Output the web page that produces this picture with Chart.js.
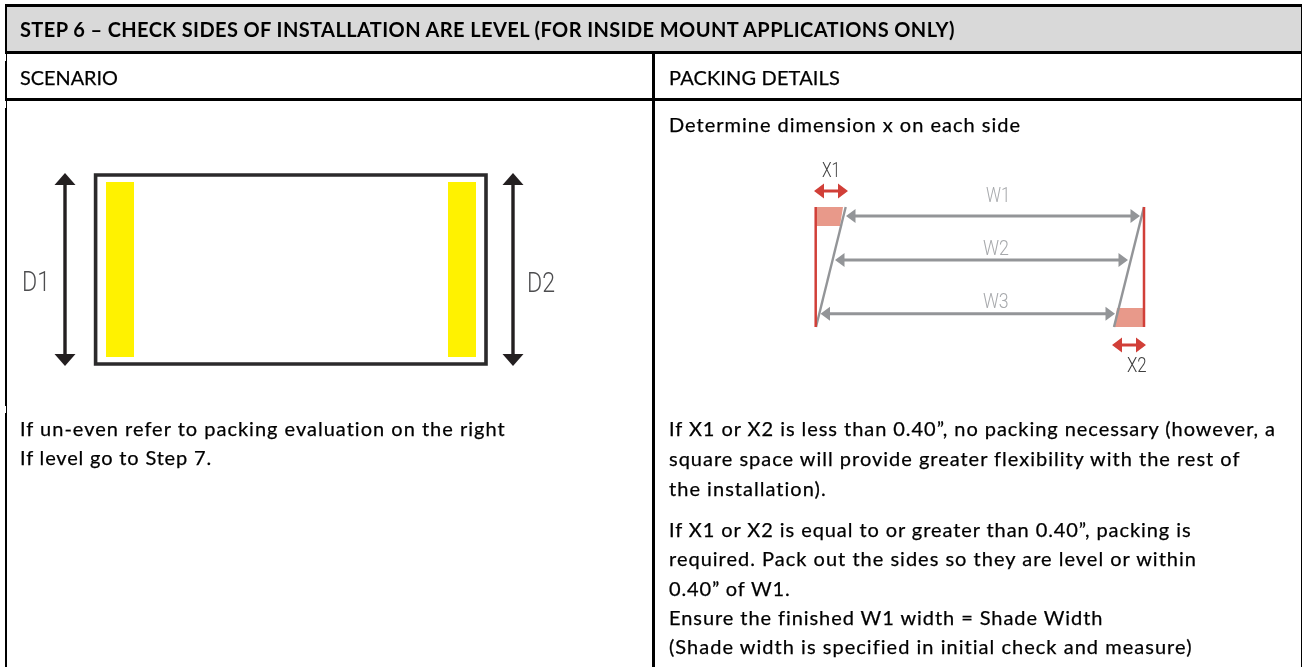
<!DOCTYPE html>
<html>
<head>
<meta charset="utf-8">
<title>Step 6</title>
<script src="https://cdn.jsdelivr.net/npm/chart.js@4"></script>
<style>
    html, body { margin: 0; padding: 0; background: #fff; overflow: hidden; }
    #wrap { position: relative; width: 1302px; height: 667px; }
    #lamina { position: absolute; left: 0; top: 0; }
    .txt { position: absolute; white-space: pre; color: #000; transform-origin: 0 0; }
    .cuerpo { -webkit-text-stroke: 0.25px #000; }
</style>
</head>
<body>
<div id="wrap"><canvas id="lamina" width="1302" height="667"></canvas></div>
<script>
// table rules, in picture units
const ruleRows = [5.5, 52.5, 99.5];
const headerBand = [[7, 7], [1301, 7], [1301, 51], [7, 51]];
const tableBottom = 667;
const leftEdge = 6, columnEdge = 653.5, rightEdge = 1301.5;
const leftNotches = [[54, 61], [101, 108], [406, 413]];

// left diagram
const frame = [[95.6, 175], [486, 175], [486, 364], [95.6, 364]];
const leftBar = [[106, 182], [134, 182], [134, 357], [106, 357]];
const rightBar = [[448, 182], [476, 182], [476, 357], [448, 357]];
const depthArrows = [[65, 173, 366], [513, 173, 366]]; // x, top, bottom

// right diagram
const redLines = [[[815.7, 207], [815.7, 327]], [[1144, 207], [1144, 327]]];
const greySlants = [[[845.7, 207], [816, 327]], [[1144, 207], [1114, 327]]];
const pinkBoxes = [
    [[816, 207], [843, 207], [840, 226], [816, 226]],
    [[1117, 308], [1145, 308], [1145, 327], [1114, 327]]
];
const widthArrows = [[846, 1140, 216], [835, 1128, 260], [820.5, 1115, 313.7]]; // left, right, y
const gapArrows = [[814, 848, 191], [1112, 1146, 345]];

// text
const titleText = 'STEP 6 – CHECK SIDES OF INSTALLATION ARE LEVEL (FOR INSIDE MOUNT APPLICATIONS ONLY)';
const colHeads = ['SCENARIO', 'PACKING DETAILS'];
const leftLines = ['If un-even refer to packing evaluation on the right', 'If level go to Step 7.'];
const introLine = 'Determine dimension x on each side';
const rightLines = [
    'If X1 or X2 is less than 0.40”, no packing necessary (however, a',
    'square space will provide greater flexibility with the rest of',
    'the installation).',
    'If X1 or X2 is equal to or greater than 0.40”, packing is',
    'required. Pack out the sides so they are level or within',
    '0.40” of W1.',
    'Ensure the finished W1 width = Shade Width',
    '(Shade width is specified in initial check and measure)'
];
const rightBaselines = [436, 466, 496, 537, 566, 596, 625, 654];
const rightEnds = [1276, 1240.5, 827, 1191.5, 1197, 790.5, 1103, 1192.5];

const NEGRO = '#000000', OSCURO = '#2b2a2b', AMARILLO = '#fff200';
const GRIS = '#939598', ROJO = '#d13f38', ROSA = '#e8998a';

const datasets = [];

function linea(points, color, width) {
    datasets.push({
        data: points.map(p => ({ x: p[0], y: p[1] })),
        showLine: true, borderColor: color, borderWidth: width,
        pointRadius: 0, tension: 0, fill: false, order: -datasets.length
    });
}

function forma(points, color) {
    datasets.push({
        data: points.concat([points[0]]).map(p => ({ x: p[0], y: p[1] })),
        showLine: true, borderWidth: 0, borderColor: color, backgroundColor: color,
        pointRadius: 0, tension: 0, fill: 'shape', order: -datasets.length
    });
}

// Flecha horizontal con punta en los dos lados
function flechaH(x1, x2, y, color, width, largo, medio) {
    linea([[x1 + largo - 1, y], [x2 - largo + 1, y]], color, width);
    forma([[x1, y], [x1 + largo, y - medio], [x1 + largo, y + medio]], color);
    forma([[x2, y], [x2 - largo, y - medio], [x2 - largo, y + medio]], color);
}

function flechaV(x, y1, y2, color, width, largo, medio) {
    linea([[x, y1 + largo - 1], [x, y2 - largo + 1]], color, width);
    forma([[x, y1], [x - medio, y1 + largo], [x + medio, y1 + largo]], color);
    forma([[x, y2], [x - medio, y2 - largo], [x + medio, y2 - largo]], color);
}

// Tabla
forma(headerBand, '#d9d9d9');
ruleRows.forEach(y => linea([[5, y], [1302, y]], NEGRO, 3));
linea([[leftEdge, 4], [leftEdge, tableBottom]], NEGRO, 2);
linea([[columnEdge, 54], [columnEdge, tableBottom]], NEGRO, 3);
linea([[rightEdge, 4], [rightEdge, tableBottom]], NEGRO, 1);
leftNotches.forEach(n => linea([[5.5, n[0]], [5.5, n[1]]], '#ffffff', 1));

// Diagrama izquierdo
forma(leftBar, AMARILLO);
forma(rightBar, AMARILLO);
linea(frame.concat([frame[0], frame[1]]), OSCURO, 3.6);
depthArrows.forEach(a => flechaV(a[0], a[1], a[2], '#231f20', 3.4, 12, 10.5));

// Diagrama derecho
pinkBoxes.forEach(b => forma(b, ROSA));
greySlants.forEach(s => linea(s, GRIS, 2.4));
redLines.forEach(s => linea(s, ROJO, 2.5));
widthArrows.forEach(a => flechaH(a[0], a[1], a[2], GRIS, 3, 9.5, 7));
gapArrows.forEach(a => flechaH(a[0], a[1], a[2], ROJO, 3, 10, 7.5));

new Chart(document.getElementById('lamina'), {
    type: 'scatter',
    data: { datasets: datasets },
    options: {
        responsive: false,
        animation: false,
        layout: { padding: 0 },
        plugins: { legend: { display: false }, tooltip: { enabled: false } },
        scales: {
            x: { type: 'linear', min: 0, max: 1302, display: false },
            y: { type: 'linear', min: 0, max: 667, reverse: true, display: false }
        }
    }
});

// Texto real encima del canvas: baseline y ancho ajustados a la referencia
const wrap = document.getElementById('wrap');

function texto(str, x, base, fin, font, color, clase) {
    const el = document.createElement('div');
    el.className = 'txt' + (clase ? ' ' + clase : '');
    el.textContent = str;
    el.style.font = font;
    el.style.left = x + 'px';
    el.style.top = '0px';
    if (color) el.style.color = color;
    wrap.appendChild(el);

    const marca = document.createElement('span');
    marca.style.cssText = 'display:inline-block;width:0;height:0;vertical-align:baseline';
    el.appendChild(marca);
    const alto = marca.getBoundingClientRect().bottom;
    el.removeChild(marca);
    el.style.top = (base - alto) + 'px';

    const ancho = el.getBoundingClientRect().width;
    if (ancho > fin - x) {
        el.style.transform = 'scaleX(' + ((fin - x) / ancho) + ')';
    } else {
        el.style.letterSpacing = ((fin - x - ancho) / str.length) + 'px';
    }
}

const CUERPO = '400 20px Lato';
texto(titleText, 20, 36.7, 955, '700 20px Lato', '#000');
texto(colHeads[0], 20, 85, 118, CUERPO, '#000', 'cuerpo');
texto(colHeads[1], 669, 85, 840, CUERPO, '#000', 'cuerpo');
texto(introLine, 669, 132, 1021, CUERPO, '#000', 'cuerpo');
texto(leftLines[0], 20, 436, 506, CUERPO, '#000', 'cuerpo');
texto(leftLines[1], 20, 465, 212, CUERPO, '#000', 'cuerpo');
rightLines.forEach((l, i) => texto(l, 669, rightBaselines[i], rightEnds[i], CUERPO, '#000', 'cuerpo'));

const ROTULO = '300 27px Roboto';
texto('D1', 22, 291, 50, ROTULO, '#4d4d4f');
texto('D2', 527, 292, 555, ROTULO, '#4d4d4f');
texto('X1', 821.7, 176.7, 840, '300 19.5px Roboto', '#3f3f3f');
texto('X2', 1127, 371.7, 1146.7, '300 19.5px Roboto', '#3f3f3f');
texto('W1', 985.7, 201.7, 1010, '300 20px Roboto', '#a7a9ac');
texto('W2', 983, 255, 1009, '300 20px Roboto', '#a7a9ac');
texto('W3', 983, 307.7, 1008.7, '300 20px Roboto', '#a7a9ac');
</script>
</body>
</html>
